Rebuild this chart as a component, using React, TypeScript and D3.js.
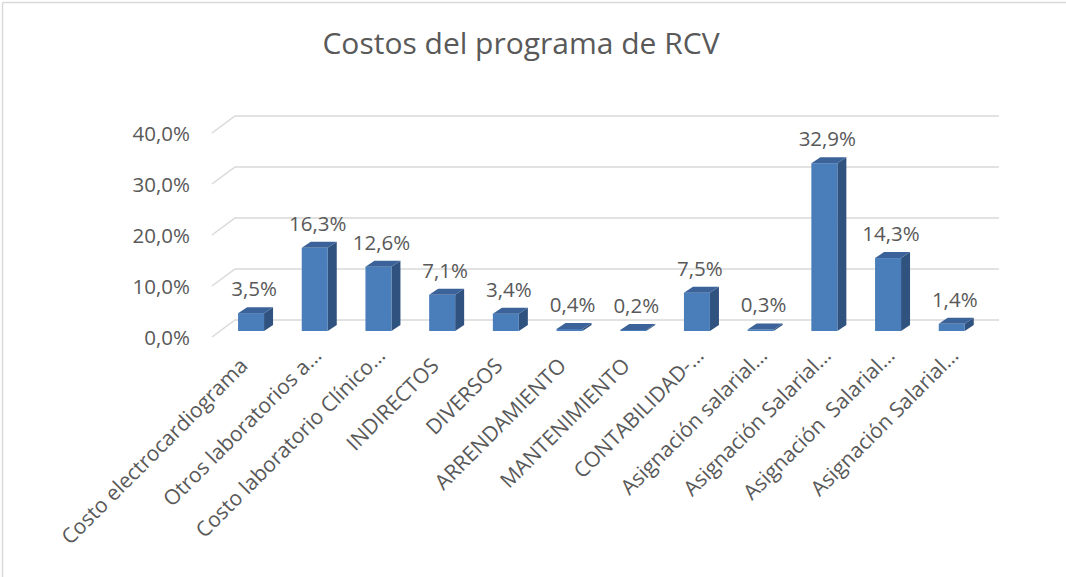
import React from "react";
import * as d3 from "d3";

const categories = [
  "Costo electrocardiograma",
  "Otros laboratorios a…",
  "Costo laboratorio Clínico…",
  "INDIRECTOS",
  "DIVERSOS",
  "ARRENDAMIENTO",
  "MANTENIMIENTO",
  "CONTABILIDAD-…",
  "Asignación salarial…",
  "Asignación Salarial…",
  "Asignación  Salarial…",
  "Asignación Salarial…",
];
const values = [3.5, 16.3, 12.6, 7.1, 3.4, 0.4, 0.2, 7.5, 0.3, 32.9, 14.3, 1.4];
const yTicks = [0, 10, 20, 30, 40];
const title = "Costos del programa de RCV";

const W = 1066;
const H = 577;
const FONT = "'Open Sans', 'Noto Sans', sans-serif";
const TEXT = "#595959";
const GRID = "#d9d9d9";
const FRONT = "#4a7ebb";
const SIDE = "#30527f";
const TOP = "#3b6399";

const fmt = (v: number) => v.toFixed(1).replace(".", ",") + "%";

export default function App() {
  const y = d3.scaleLinear().domain([0, 40]).range([331, 127]);
  const x = d3
    .scaleBand<number>()
    .domain(d3.range(categories.length))
    .range([219.2, 983.6])
    .padding(0);
  const barW = 26;
  const dx = 9;
  const dy = -6;
  const wallLeft = 235;
  const wallRight = 999;
  const wallOff = -11;
  const depthX = -23;
  const depthY = 17;

  return (
    <svg width={W} height={H} style={{ display: "block", position: "absolute", left: 0, top: 0 }}>
      <rect x={0} y={0} width={W} height={H} fill="#fff" />
      <line x1={2.5} y1={2.5} x2={W} y2={2.5} stroke={GRID} strokeWidth={1.5} />
      <line x1={2.5} y1={2.5} x2={2.5} y2={H} stroke={GRID} strokeWidth={1.5} />
      <text x={521} y={54} textAnchor="middle" fontFamily={FONT} fontSize={30} fill={TEXT}>
        {title}
      </text>
      {yTicks.map((t) => {
        const yb = y(t) + wallOff;
        return (
          <g key={t}>
            <polyline
              points={`${wallLeft + depthX},${yb + depthY} ${wallLeft},${yb} ${wallRight},${yb}`}
              fill="none"
              stroke={GRID}
              strokeWidth={1.5}
            />
            <text
              x={190}
              y={yb + depthY + 1}
              dy="0.35em"
              textAnchor="end"
              fontFamily={FONT}
              fontSize={20.5}
              fill={TEXT}
            >
              {fmt(t)}
            </text>
          </g>
        );
      })}
      {values.map((v, i) => {
        const cx = (x(i) as number) + x.bandwidth() / 2;
        const x0 = cx - barW / 2;
        const x1 = cx + barW / 2;
        const y0 = y(0);
        const yt = y(v);
        return (
          <g key={i}>
            <polygon
              points={`${x1},${yt} ${x1 + dx},${yt + dy} ${x1 + dx},${y0 + dy} ${x1},${y0}`}
              fill={SIDE}
            />
            <rect x={x0} y={yt} width={barW} height={Math.max(0, y0 - yt)} fill={FRONT} />
            <polygon
              points={`${x0},${yt} ${x1},${yt} ${x1 + dx},${yt + dy} ${x0 + dx},${yt + dy}`}
              fill={TOP}
            />
            <text
              x={cx + 3}
              y={yt + dy - 11}
              textAnchor="middle"
              fontFamily={FONT}
              fontSize={20.5}
              fill={TEXT}
            >
              {fmt(v)}
            </text>
          </g>
        );
      })}
      {categories.map((c, i) => {
        const cx = (x(i) as number) + x.bandwidth() / 2;
        const trunc = c.endsWith("…");
        const ex = trunc ? cx + 8 : cx - 2;
        const ey = trunc ? 357 : 367;
        return (
          <text
            key={i}
            transform={`translate(${ex},${ey}) rotate(-45)`}
            textAnchor="end"
            fontFamily={FONT}
            fontSize={21}
            fill={TEXT}
            style={{ whiteSpace: "pre" }}
          >
            {c}
          </text>
        );
      })}
    </svg>
  );
}
